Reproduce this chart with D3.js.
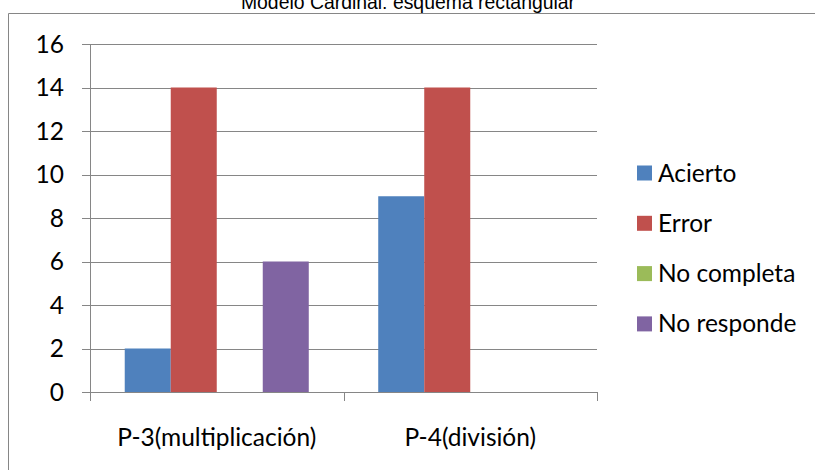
<!DOCTYPE html>
<html><head><meta charset="utf-8">
<script src="https://cdn.jsdelivr.net/npm/d3@7/dist/d3.min.js"></script>
<style>html,body{margin:0;padding:0;background:#fff;overflow:hidden}</style>
</head><body>
<svg id="c" width="815" height="470"></svg>
<script>
const title = "Modelo Cardinal: esquema rectangular";
const categories = ["P-3(multiplicación)", "P-4(división)"];
const seriesNames = ["Acierto", "Error", "No completa", "No responde"];
const seriesColors = ["#4F81BD", "#C0504D", "#9BBB59", "#8064A2"];
const acierto = [2, 9];
const error = [14, 14];
const noCompleta = [0, 0];
const noResponde = [6, 0];
const yTicks = [0, 2, 4, 6, 8, 10, 12, 14, 16];

const values = [acierto, error, noCompleta, noResponde];
const svg = d3.select("#c");
const font = "Lato, 'Open Sans', sans-serif";
const fs = 24.5;
const grid = "#868686";

// frame
svg.append("path").attr("d", "M8.5,470 V13.5 H815").attr("fill", "none").attr("stroke", grid).attr("stroke-width", 1);
svg.append("text").attr("x", 408).attr("y", 9).attr("text-anchor", "middle")
  .attr("font-family", "'Liberation Sans', Arial, sans-serif").attr("font-size", 19.4).attr("fill", "#000").text(title);

const x0 = d3.scaleBand().domain(categories).range([90, 597]).padding(0);
const x1 = d3.scaleBand().domain(seriesNames).range([0, x0.bandwidth()]).paddingInner(0).paddingOuter(0.755);
const y = d3.scaleLinear().domain([0, 16]).range([392, 44]);

// gridlines + y ticks
svg.append("g").selectAll("line").data(yTicks).join("line")
  .attr("x1", 82).attr("x2", 597)
  .attr("y1", d => Math.round(y(d)) + 0.5).attr("y2", d => Math.round(y(d)) + 0.5)
  .attr("stroke", grid).attr("stroke-width", 1);
svg.append("g").selectAll("text").data(yTicks).join("text")
  .attr("x", 64).attr("y", d => y(d)).attr("dy", "0.35em").attr("text-anchor", "end")
  .attr("font-family", font).attr("font-size", fs).attr("fill", "#000").text(d => d);

// bars
const rows = [];
categories.forEach((c, i) => seriesNames.forEach((s, j) => rows.push({c, s, j, v: values[j][i]})));
svg.append("g").selectAll("rect").data(rows.filter(d => d.v > 0)).join("rect")
  .attr("x", d => x0(d.c) + x1(d.s)).attr("width", x1.bandwidth())
  .attr("y", d => y(d.v)).attr("height", d => y(0) - y(d.v))
  .attr("fill", d => seriesColors[d.j]);

// axes lines
svg.append("line").attr("x1", 90.5).attr("x2", 90.5).attr("y1", y(16)).attr("y2", 401).attr("stroke", grid);
const xt = [90, x0(categories[1]), 597];
svg.append("g").selectAll("line").data(xt).join("line")
  .attr("x1", d => Math.round(d) + 0.5).attr("x2", d => Math.round(d) + 0.5)
  .attr("y1", 392).attr("y2", 401).attr("stroke", grid);
svg.append("g").selectAll("text").data(categories).join("text")
  .attr("x", d => x0(d) + x0.bandwidth() / 2).attr("y", 446).attr("text-anchor", "middle")
  .attr("font-family", font).attr("font-size", fs).attr("fill", "#000").text(d => d);

// legend
const lg = svg.append("g").selectAll("g").data(seriesNames).join("g")
  .attr("transform", (d, i) => `translate(637,${173 + i * 50.3})`);
lg.append("rect").attr("x", 0).attr("y", -7.5).attr("width", 15).attr("height", 15).attr("fill", (d, i) => seriesColors[i]);
lg.append("text").attr("x", 21).attr("y", 0).attr("dy", "0.35em")
  .attr("font-family", font).attr("font-size", fs).attr("fill", "#000").text(d => d);
</script>
</body></html>
